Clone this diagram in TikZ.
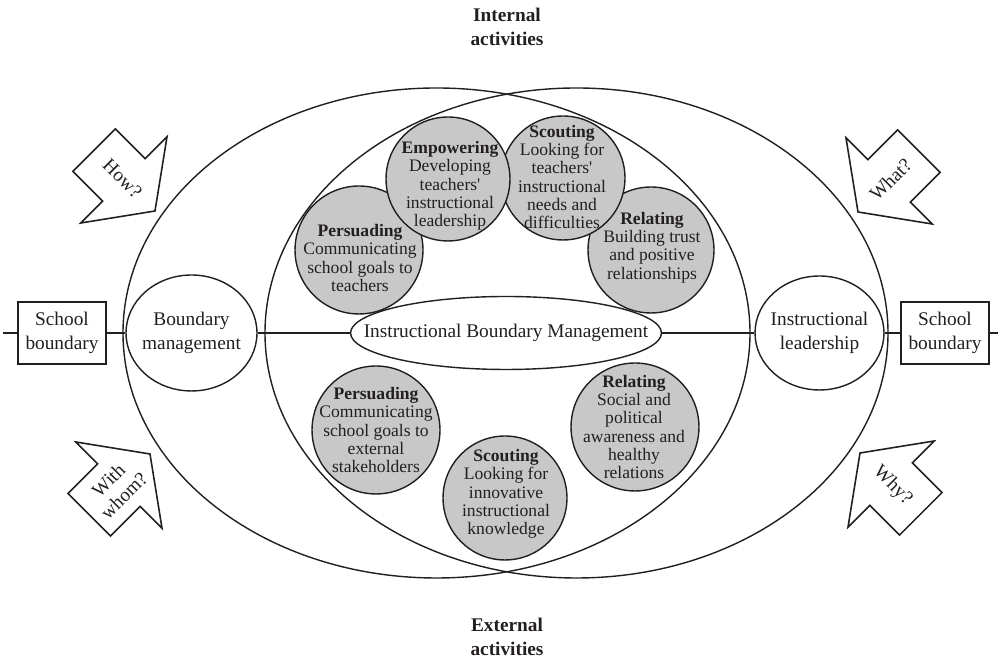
\documentclass[tikz,border=0pt]{standalone}
\usepackage{fontspec}
\setmainfont{Liberation Serif}
\usetikzlibrary{shapes.geometric}
\definecolor{discgray}{RGB}{200,200,200}
\definecolor{inkcol}{RGB}{35,31,32}

\begin{document}
\begin{tikzpicture}[x=0.02cm,y=0.02cm,
  every node/.style={text=inkcol},
  bigring/.style={draw=inkcol,line width=0.8pt},
  disc/.style={circle,draw=inkcol,fill=discgray,line width=0.8pt,inner sep=0pt},
  disctext/.style={align=center,font=\fontsize{10}{10.4}\selectfont,inner sep=0pt},
  roleoval/.style={ellipse,draw=inkcol,fill=white,line width=0.8pt,inner sep=0pt},
  ovaltext/.style={align=center,font=\fontsize{11}{13.6}\selectfont,inner sep=0pt},
  schoolbox/.style={rectangle,draw=inkcol,fill=white,line width=0.9pt,
    minimum width=1.76cm,minimum height=1.24cm,inner sep=0pt,align=center,
    font=\fontsize{11}{13.6}\selectfont},
  axisline/.style={draw=inkcol,line width=1.3pt},
  blockarrow/.style={draw=inkcol,fill=white,line width=0.9pt,line join=miter},
  arrowtext/.style={align=center,font=\fontsize{11}{12.5}\selectfont,inner sep=0pt},
  headtext/.style={align=center,font=\bfseries\fontsize{11}{14}\selectfont,inner sep=0pt}
]
\useasboundingbox (0,0) rectangle (1001,658);

% headings
\node[headtext] (internal) at (507,631) {Internal\\activities};
\node[headtext] (external) at (507,21) {External\\activities};

% the two overlapping spheres
\draw[bigring] (436.5,325) ellipse [x radius=313.5, y radius=245];
\draw[bigring] (576.5,325) ellipse [x radius=311.5, y radius=245];

% question arrows
\draw[blockarrow, shift={(155,447)}, rotate=-45]
  (0,0) -- (-44,61) -- (-44,30) -- (-86,30) -- (-86,-30) -- (-44,-30) -- (-44,-61) -- cycle
  (-46,0) node[arrowtext, rotate=-45] (how) {How?};
\draw[blockarrow, shift={(858,446)}, rotate=225]
  (0,0) -- (-44,61) -- (-44,30) -- (-86,30) -- (-86,-30) -- (-44,-30) -- (-44,-61) -- cycle
  (-46,0) node[arrowtext, rotate=45] (what) {What?};
\draw[blockarrow, shift={(150,204)}, rotate=45]
  (0,0) -- (-44,61) -- (-44,30) -- (-86,30) -- (-86,-30) -- (-44,-30) -- (-44,-61) -- cycle
  (-48,0) node[arrowtext, rotate=45] (withwhom) {With\\whom?};
\draw[blockarrow, shift={(860,205)}, rotate=135]
  (0,0) -- (-44,61) -- (-44,30) -- (-86,30) -- (-86,-30) -- (-44,-30) -- (-44,-61) -- cycle
  (-46,0) node[arrowtext, rotate=-45] (why) {Why?};

% internal activities (Empowering lies on top of its neighbours)
\node[disc, minimum size=2.56cm] (ipers) at (359,408) {};
\node[disctext] (iperst) at (360,400) {\textbf{Persuading}\\Communicating\\school goals to\\teachers};
\node[disc, minimum size=2.52cm] (irel) at (651,408) {};
\node[disctext] (irelt) at (652,410.5) {\textbf{Relating}\\Building trust\\and positive\\relationships};
\node[disc, minimum size=2.48cm] (iscout) at (563,480) {};
\node[disctext] (iscoutt) at (562,481) {\textbf{Scouting}\\Looking for\\teachers\textquotesingle\\instructional\\needs and\\difficulties};
\node[disc, minimum size=2.48cm] (iemp) at (448,479) {};
\node[disctext] (iempt) at (450,472) {\textbf{Empowering}\\Developing\\teachers\textquotesingle\\instructional\\leadership};

% external activities
\node[disc, minimum size=2.56cm] (epers) at (376,228) {};
\node[disc, minimum size=2.48cm] (escout) at (505,160) {};
\node[disc, minimum size=2.56cm] (erel) at (635,231) {};
\node[disctext] (eperst) at (376,228) {\textbf{Persuading}\\Communicating\\school goals to\\external\\stakeholders};
\node[disctext] (escoutt) at (506,164) {\textbf{Scouting}\\Looking for\\innovative\\instructional\\knowledge};
\node[disctext] (erelt) at (634,231) {\textbf{Relating}\\Social and\\political\\awareness and\\healthy\\relations};

% axis nodes
\node[schoolbox] (lbox) at (62,325) {School\\boundary};
\node[schoolbox] (rbox) at (945,325) {School\\boundary};
\node[roleoval, minimum width=2.62cm, minimum height=2.32cm] (bm) at (191.5,325) {};
\node[ovaltext] (bmt) at (191.5,325) {Boundary\\management};
\node[roleoval, minimum width=2.58cm, minimum height=2.28cm] (il) at (819.5,325) {};
\node[ovaltext] (ilt) at (819.5,325) {Instructional\\leadership};
\node[roleoval, minimum width=6.22cm, minimum height=1.46cm] (ibm) at (506,325) {};
\node[ovaltext] (ibmt) at (506,325) {Instructional Boundary Management};

\coordinate (lend) at (3,325);
\coordinate (rend) at (998,325);

% the axis through the model
\draw[axisline] (lend) -- (lbox.west);
\draw[axisline] (lbox.east) -- (bm.west);
\draw[axisline] (bm.east) -- (ibm.west);
\draw[axisline] (ibm.east) -- (il.west);
\draw[axisline] (il.east) -- (rbox.west);
\draw[axisline] (rbox.east) -- (rend);
\end{tikzpicture}
\end{document}
